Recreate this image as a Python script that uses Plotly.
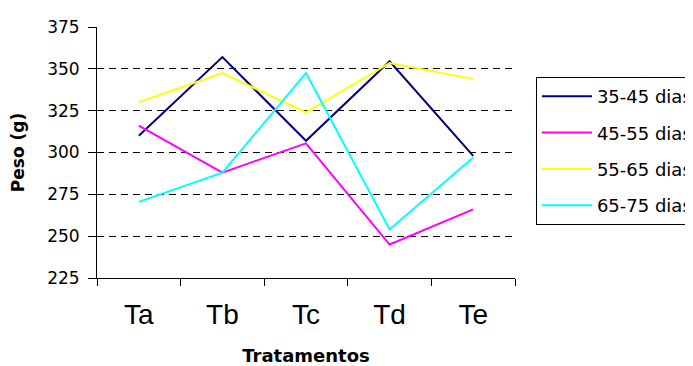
import plotly.graph_objects as go

categories = ["Ta", "Tb", "Tc", "Td", "Te"]
series_names = ["35-45 dias", "45-55 dias", "55-65 dias", "65-75 dias"]
s35_45 = [310, 357, 307, 354.5, 298]
s45_55 = [316, 288, 305.5, 245, 266]
s55_65 = [330, 347.5, 324, 353.5, 344]
s65_75 = [270.5, 288, 347.5, 254, 297]
y_ticks = [225, 250, 275, 300, 325, 350, 375]

colors = ["#000080", "#FF00FF", "#FFFF00", "#00FFFF"]
all_series = [s35_45, s45_55, s55_65, s65_75]

fig = go.Figure()
for name, vals, col in zip(series_names, all_series, colors):
    fig.add_trace(go.Scatter(x=categories, y=vals, name=name, mode="lines",
                             line=dict(color=col, width=2), legendgroup=name))

arial = "Liberation Sans, Arial, sans-serif"
dejavu = "DejaVu Sans, sans-serif"
# page has an 8px body margin; figure sized so it ends at the window edge
fig.update_layout(
    width=685, height=358,
    margin=dict(l=89, r=178, t=19, b=88, autoexpand=False),
    paper_bgcolor="white", plot_bgcolor="white",
    font=dict(family=dejavu, color="black"),
    showlegend=True,
    legend=dict(x=1.05, xanchor="left", y=0.801, yanchor="top",
                bordercolor="black", borderwidth=1, bgcolor="white",
                font=dict(size=18, family=dejavu, color="black"),
                tracegroupgap=10, itemwidth=50),
    xaxis=dict(type="category", range=[-0.5, 4.5], showgrid=False,
               showline=True, linecolor="black", linewidth=1,
               ticks="outside", tickson="boundaries", ticklen=7, tickcolor="black",
               tickfont=dict(size=28, family=arial), zeroline=False,
               ticklabelstandoff=11,
               title=dict(text="<b>Tratamentos</b>", font=dict(size=18, family=dejavu), standoff=22)),
    yaxis=dict(range=[225, 375], tickvals=y_ticks, showgrid=True,
               gridcolor="black", griddash="7px,5px", gridwidth=1,
               showline=True, linecolor="black", linewidth=1,
               ticks="outside", ticklen=8, tickcolor="black",
               tickfont=dict(size=17, family=dejavu), zeroline=False,
               ticklabelstandoff=5,
               title=dict(text="<b>Peso (g)</b>", font=dict(size=17, family=dejavu), standoff=18)),
)

fig.write_html("out.html")
